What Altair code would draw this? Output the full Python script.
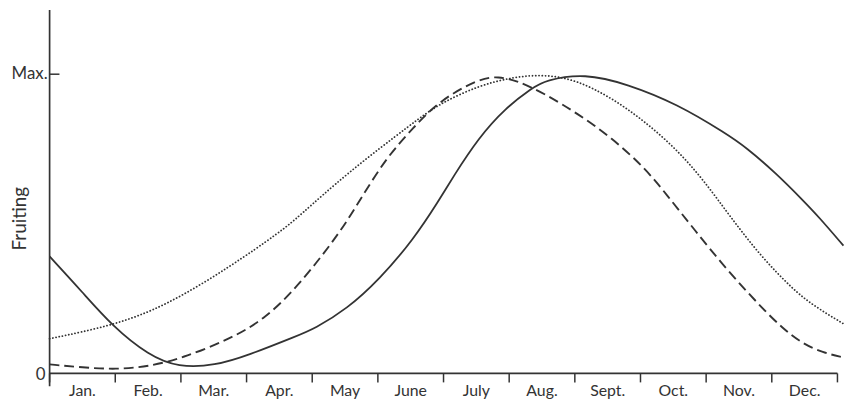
import altair as alt
import pandas as pd

# ---- data (months from start of Jan; value as fraction of Max.) ----
solid_month = [0.000, 0.498, 0.951, 1.509, 1.962, 2.521, 3.019, 3.774, 4.030, 4.528, 5.026,
               5.540, 5.932, 6.143, 6.536, 6.943, 7.351, 7.547, 8.151, 8.800, 9.555,
               10.309, 10.611, 11.064, 11.472, 11.728, 12.091]
solid_value = [0.391, 0.272, 0.159, 0.060, 0.020, 0.026, 0.060, 0.126, 0.149, 0.215, 0.315,
               0.447, 0.579, 0.656, 0.788, 0.887, 0.954, 0.980, 1.003, 0.967, 0.901,
               0.801, 0.755, 0.669, 0.579, 0.520, 0.427]

dashed_month = [0.000, 0.498, 1.011, 1.509, 2.008, 2.762, 3.275, 3.774, 4.423, 4.725, 5.132,
                5.540, 5.932, 6.536, 6.838, 7.140, 7.547, 8.045, 8.558, 9.057, 9.404,
                9.811, 10.309, 10.823, 11.170, 11.472, 11.774, 12.091]
dashed_value = [0.030, 0.020, 0.013, 0.023, 0.050, 0.116, 0.182, 0.288, 0.470, 0.579, 0.722,
                0.821, 0.911, 0.985, 0.993, 0.977, 0.934, 0.868, 0.788, 0.689, 0.596,
                0.483, 0.348, 0.225, 0.149, 0.099, 0.070, 0.053]

dotted_month = [0.000, 0.951, 1.766, 2.762, 3.517, 3.774, 4.528, 5.540, 5.932, 6.536, 7.049,
                7.547, 8.045, 8.558, 9.057, 9.555, 9.962, 10.370, 10.823, 11.321, 11.623,
                12.091]
dotted_value = [0.116, 0.159, 0.225, 0.358, 0.474, 0.520, 0.669, 0.838, 0.901, 0.962, 0.990,
                1.000, 0.979, 0.921, 0.844, 0.748, 0.646, 0.523, 0.394, 0.281, 0.228,
                0.166]

month_labels = ["Jan.", "Feb.", "Mar.", "Apr.", "May", "June", "July", "Aug.",
                "Sept.", "Oct.", "Nov.", "Dec."]
month_bounds = list(range(13))
y_tick_values = [0, 1]
y_tick_labels = ["0", "Max."]
y_title = "Fruiting"

# ---- styling ----
INK = "#333333"
FONT = "Lato"
X_DOM = [0, 12.1]
Y_DOM = [0, 1.215]

xs = alt.Scale(domain=X_DOM, nice=False, zero=False)
ys = alt.Scale(domain=Y_DOM, nice=False, zero=False)
X = alt.X("m:Q", scale=xs, axis=None)
Y = alt.Y("v:Q", scale=ys, axis=None)


def line_layer(months, values, **mk):
    df = pd.DataFrame({"m": months, "v": values})
    return alt.Chart(df).mark_line(interpolate="basis", color=INK, **mk).encode(x=X, y=Y)


solid = line_layer(solid_month, solid_value, strokeWidth=1.8)
dashed = line_layer(dashed_month, dashed_value, strokeWidth=1.9, strokeDash=[10, 5])
dotted = line_layer(dotted_month, dotted_value, strokeWidth=1.8,
                    strokeDash=[0.1, 3.2], strokeCap="round")

# axis lines and ticks as rules in data space
rules_df = pd.DataFrame(
    [{"m": 0, "m2": 0, "v": -0.043, "v2": Y_DOM[1], "w": 1.7},      # y axis line
     {"m": 0, "m2": 12, "v": 0, "v2": 0, "w": 1.7},                 # x axis line
     {"m": 0, "m2": 0.15, "v": 1, "v2": 1, "w": 1.5}]               # Max. tick
    + [{"m": b, "m2": b, "v": 0, "v2": -0.03, "w": 1.5} for b in month_bounds]
)
rules = alt.Chart(rules_df).mark_rule(color=INK).encode(
    x=X, x2="m2:Q", y=Y, y2="v2:Q",
    strokeWidth=alt.StrokeWidth("w:Q", scale=None, legend=None),
)

labels_df = pd.DataFrame({"m": [i + 0.5 for i in range(12)],
                          "v": [-0.060] * 12, "lab": month_labels})
x_labels = alt.Chart(labels_df).mark_text(font=FONT, fontSize=16, color=INK,
                                          baseline="middle", align="center").encode(
    x=X, y=Y, text="lab:N")

max_df = pd.DataFrame({"m": [0], "v": [y_tick_values[1]], "lab": [y_tick_labels[1]]})
max_label = alt.Chart(max_df).mark_text(
    font=FONT, fontSize=17, color=INK, align="right", baseline="middle", dx=-2).encode(
    x=X, y=Y, text="lab:N")

zero_df = pd.DataFrame({"m": [0], "v": [y_tick_values[0]], "lab": [y_tick_labels[0]]})
zero_label = alt.Chart(zero_df).mark_text(
    font=FONT, fontSize=17, color=INK, align="center", baseline="middle", dx=-9, dy=2).encode(
    x=X, y=Y, text="lab:N")

title_df = pd.DataFrame({"m": [-0.45], "v": [0.517], "t": [y_title]})
y_title_mark = alt.Chart(title_df).mark_text(
    font=FONT, fontSize=19, color=INK, angle=270, align="center", baseline="middle").encode(
    x=X, y=Y, text="t:N")

chart = alt.layer(
    dotted, dashed, solid, rules, x_labels, max_label, zero_label, y_title_mark,
).properties(
    width=802, height=367,
    autosize=alt.AutoSizeParams(type="none"),
    padding={"left": 42, "top": 0, "right": 2, "bottom": 30},
    background="white",
).configure_view(stroke=None)

chart.save("out.html", embed_options={"renderer": "svg", "actions": False})
